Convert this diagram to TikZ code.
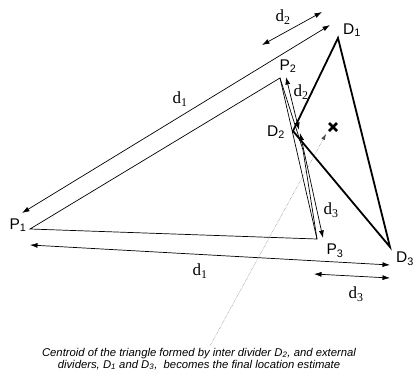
\documentclass[tikz,border=0pt]{standalone}
\usepackage{fontspec}
\setmainfont{Liberation Serif}
\setsansfont{Liberation Sans}
\usepackage{tikz}
\usetikzlibrary{arrows.meta,positioning,calc}

\tikzset{
  thinline/.style={line width=0.7pt},
  thickline/.style={line width=1.8pt},
  dimarrow/.style={line width=0.7pt, {Latex[length=7.5pt,width=5pt]}-{Latex[length=7.5pt,width=5pt]}},
  ptlabel/.style={font=\sffamily\fontsize{15.5}{15.5}\selectfont, inner sep=0pt},
  dlabel/.style={font=\fontsize{17}{17}\selectfont, inner sep=0pt}
}

\begin{document}
\begin{tikzpicture}[x=1pt,y=-1pt]
        \useasboundingbox (0,0) rectangle (416,383);

        % Vertices
        \coordinate (P1) at (30,229);
        \coordinate (P2) at (280,78);
        \coordinate (P3) at (317,239);
        \coordinate (Pbend) at (303,150);
        \coordinate (D1) at (338,38);
        \coordinate (D2) at (293,131);
        \coordinate (D3) at (390,247);
        \coordinate (C) at (333,127);

        % Triangle of the anchors
        \draw[thinline] (P1) -- (P2) -- (P3) -- cycle;
        \draw[thinline] (P2) -- (Pbend) -- (P3);

        % Triangle of the dividers
        \draw[thickline, line join=miter] (D1) -- (D2) -- (D3) -- cycle;

        % Centroid
        \draw[line width=2.6pt] ($(C)+(-4,-4)$) -- ($(C)+(4,4)$);
        \draw[line width=2.6pt] ($(C)+(-4,4)$) -- ($(C)+(4,-4)$);

        % Distance arrows
        \coordinate (d1s) at (22,213);
        \coordinate (d1e) at (330,25);
        \draw[dimarrow] (d1s) -- (d1e);
        \coordinate (d2s) at (262,45);
        \coordinate (d2e) at (322,12);
        \draw[dimarrow] (d2s) -- (d2e);
        \coordinate (d2a) at (286,77);
        \coordinate (d2b) at (299,130);
        \draw[dimarrow] (d2a) -- (d2b);
        \coordinate (d3a) at (300,133);
        \coordinate (d3b) at (323,238);
        \draw[dimarrow] (d3a) -- (d3b);
        \coordinate (d1l) at (30,245);
        \coordinate (d1r) at (390,265);
        \draw[dimarrow] (d1l) -- (d1r);
        \coordinate (d3l) at (314,274);
        \coordinate (d3r) at (390,278);
        \draw[dimarrow] (d3l) -- (d3r);

        % Labels
        \node[ptlabel] (lP1) at (18,225) {P\textsubscript{1}};
        \node[ptlabel] (lP2) at (288,66) {P\textsubscript{2}};
        \node[ptlabel] (lP3) at (335,251) {P\textsubscript{3}};
        \node[ptlabel] (lD1) at (352,30) {D\textsubscript{1}};
        \node[ptlabel] (lD2) at (276,132) {D\textsubscript{2}};
        \node[ptlabel] (lD3) at (405,259) {D\textsubscript{3}};
        \node[dlabel] (ld1a) at (180,99) {d\textsubscript{1}};
        \node[dlabel] (ld2a) at (283,17) {d\textsubscript{2}};
        \node[dlabel] (ld2b) at (301,92) {d\textsubscript{2}};
        \node[dlabel] (ld3a) at (331,210) {d\textsubscript{3}};
        \node[dlabel] (ld1b) at (200,271) {d\textsubscript{1}};
        \node[dlabel] (ld3b) at (356,294) {d\textsubscript{3}};

        % Caption
        \node[align=center, font=\sffamily\itshape\fontsize{11.3}{12}\selectfont, inner sep=1pt] (cap) at (199,359)
          {Centroid of the triangle formed by inter divider D\textsubscript{2}, and external\\
           dividers, D\textsubscript{1} and D\textsubscript{3}, \ becomes the final location estimate};
        \coordinate (capTop) at (210,346);
        \draw[line width=0.4pt, black!70, densely dotted, -{Latex[length=6pt,width=4pt]}] (capTop) -- ($(C)+(-7,7)$);
\end{tikzpicture}
\end{document}
